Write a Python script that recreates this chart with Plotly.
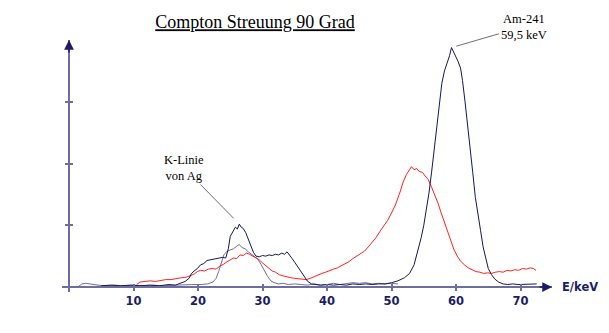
import numpy as np
import plotly.graph_objects as go

# ---- data (E in keV, counts in relative units) ----
E_dark = [5, 6.5, 8, 9.5, 11, 12.5, 14, 15.5, 16.5, 17.3, 18, 18.6, 19.0, 19.4, 19.9, 20.4, 20.9, 21.4, 22.0, 22.6,
          23.2, 23.8, 24.3, 24.7, 25.0, 25.4, 25.8, 26.1, 26.4, 26.7, 27.0, 27.4, 27.8, 28.2, 28.6, 29.0, 29.5, 30.0,
          30.5, 31.0, 31.5, 32.0, 32.5, 33.0, 33.4, 33.8, 34.2, 34.6, 35.0, 35.5, 36.0, 36.5, 37.0, 37.6, 38.3, 39,
          40, 41, 42, 43, 44, 45, 46, 47, 48, 49, 50, 51, 52, 52.8, 53.5, 54.1, 54.6, 55.0, 55.4, 55.8, 56.2, 56.6,
          57.0, 57.4, 57.8, 58.2, 58.7, 59.0, 59.3, 59.6, 59.9, 60.3, 60.7, 61.0, 61.4, 61.8, 62.2, 62.6, 63.0, 63.4,
          63.8, 64.2, 64.6, 65.0, 65.5, 66.0, 66.6, 67.3, 68, 68.8, 69.6, 70.4, 71.2, 72, 72.5]
v_dark = [0.02, 0.03, 0.02, 0.03, 0.02, 0.03, 0.02, 0.04, 0.03, 0.06, 0.09, 0.14, 0.22, 0.26, 0.30, 0.36, 0.38, 0.43,
          0.44, 0.45, 0.46, 0.48, 0.47, 0.62, 0.82, 0.90, 0.97, 0.94, 1.02, 0.97, 0.95, 0.88, 0.78, 0.66, 0.56, 0.50,
          0.49, 0.51, 0.50, 0.52, 0.51, 0.53, 0.52, 0.55, 0.53, 0.57, 0.52, 0.46, 0.40, 0.32, 0.23, 0.15, 0.09, 0.05,
          0.04, 0.03, 0.04, 0.03, 0.04, 0.03, 0.05, 0.04, 0.05, 0.04, 0.05, 0.05, 0.07, 0.10, 0.15, 0.22, 0.36, 0.58,
          0.80, 1.00, 1.25, 1.52, 1.85, 2.20, 2.55, 2.95, 3.30, 3.50, 3.64, 3.75, 3.88, 3.82, 3.74, 3.66, 3.55, 3.35,
          3.00, 2.65, 2.25, 1.85, 1.45, 1.15, 0.92, 0.65, 0.45, 0.30, 0.20, 0.13, 0.08, 0.05, 0.04, 0.05, 0.04, 0.04,
          0.05, 0.04, 0.05]

E_gray = [1.5, 2.0, 2.6, 3.2, 3.8, 4.5, 5.5, 7, 8.5, 10, 11.5, 13, 14.5, 16, 17.5, 19, 20.5, 21.5, 22.3, 22.8, 23.2,
          23.6, 24.0, 24.5, 25.0, 25.5, 26.0, 26.4, 26.8, 27.3, 27.8, 28.3, 28.8, 29.3, 29.8, 30.3, 30.8, 31.3, 31.8,
          32.5, 33.2, 34, 35, 36, 37, 38, 39, 40, 41, 42, 43, 44, 45, 46, 47, 48, 49, 50, 51]
v_gray = [0.01, 0.05, 0.06, 0.05, 0.03, 0.03, 0.02, 0.03, 0.02, 0.03, 0.02, 0.03, 0.02, 0.03, 0.03, 0.04, 0.04, 0.05,
          0.08, 0.14, 0.25, 0.40, 0.52, 0.58, 0.60, 0.62, 0.66, 0.69, 0.64, 0.62, 0.57, 0.53, 0.50, 0.45, 0.36, 0.26,
          0.17, 0.10, 0.07, 0.05, 0.06, 0.04, 0.05, 0.04, 0.03, 0.05, 0.03, 0.04, 0.06, 0.04, 0.05, 0.07, 0.06, 0.07,
          0.05, 0.06, 0.05, 0.06, 0.05]

E_red = [10.5, 11.0, 11.8, 12.6, 13.4, 14.2, 15.0, 15.8, 16.6, 17.4, 18.2, 18.8, 19.4, 19.9, 20.4, 21.0, 21.6, 22.2,
         22.8, 23.4, 24.0, 24.5, 25.0, 25.5, 26.0, 26.5, 27.0, 27.5, 28.0, 28.5, 29.0, 29.5, 30.0, 30.5, 31.0, 31.5,
         32.0, 32.6, 33.2, 33.8, 34.4, 35.0, 35.6, 36.2, 36.8, 37.4, 38.0, 38.6, 39.2, 39.8, 40.4, 41.0, 41.6, 42.2,
         42.8, 43.4, 44.0, 44.6, 45.2, 45.8, 46.4, 47.0, 47.6, 48.2, 48.8, 49.4, 50.0, 50.6, 51.2, 51.8, 52.3, 52.8,
         53.1, 53.5, 53.9, 54.3, 54.8, 55.2, 55.7, 56.2, 56.7, 57.2, 57.7, 58.2, 58.7, 59.2, 59.7, 60.2, 60.7, 61.3,
         61.9, 62.5, 63.1, 63.7, 64.3, 64.9, 65.5, 66.1, 66.7, 67.3, 67.9, 68.5, 69.1, 69.7, 70.3, 70.9, 71.5, 72.0,
         72.4]
v_red = [0.04, 0.08, 0.09, 0.10, 0.09, 0.11, 0.12, 0.12, 0.14, 0.15, 0.16, 0.19, 0.21, 0.25, 0.27, 0.26, 0.29, 0.30,
         0.29, 0.34, 0.37, 0.41, 0.44, 0.47, 0.46, 0.52, 0.51, 0.55, 0.53, 0.50, 0.48, 0.44, 0.39, 0.35, 0.31, 0.26,
         0.24, 0.20, 0.18, 0.16, 0.15, 0.14, 0.13, 0.13, 0.12, 0.14, 0.17, 0.20, 0.22, 0.24, 0.27, 0.29, 0.31, 0.34,
         0.37, 0.41, 0.46, 0.50, 0.54, 0.58, 0.65, 0.72, 0.80, 0.90, 0.99, 1.08, 1.20, 1.33, 1.50, 1.70, 1.82, 1.90,
         1.95, 1.90, 1.92, 1.87, 1.86, 1.80, 1.74, 1.62, 1.50, 1.36, 1.20, 1.05, 0.90, 0.74, 0.60, 0.50, 0.42, 0.36,
         0.31, 0.28, 0.25, 0.24, 0.22, 0.23, 0.22, 0.24, 0.25, 0.24, 0.27, 0.26, 0.28, 0.27, 0.30, 0.29, 0.31, 0.30,
         0.27]

x_ticks = [10, 20, 30, 40, 50, 60, 70]
y_ticks = [1, 2, 3]

# ---- layout geometry ----
W, H = 609, 333
L, R, T, B = 62, 57, 40, 41
x_range = [-1.085, 74.88]
y_range = [-0.081, 4.003]
ax_col = "#6e6e9e"
lab_col = "#1c1c66"

xpos = (0 - y_range[0]) / (y_range[1] - y_range[0])
ypos = (0 - x_range[0]) / (x_range[1] - x_range[0])

fig = go.Figure()
fig.add_trace(go.Scatter(x=E_gray, y=v_gray, mode="lines", line=dict(color="#6f6f9c", width=1), showlegend=False))
fig.add_trace(go.Scatter(x=E_red, y=v_red, mode="lines", line=dict(color="#ff2020", width=1), showlegend=False))
fig.add_trace(go.Scatter(x=E_dark, y=v_dark, mode="lines", line=dict(color="#16165c", width=1), showlegend=False))
# dummy trace to bind the overlay axes (crossing tick halves)
fig.add_trace(go.Scatter(x=[None], y=[None], xaxis="x2", yaxis="y2", showlegend=False, hoverinfo="skip"))

common = dict(showgrid=False, zeroline=False)
fig.update_layout(
    width=W, height=H, margin=dict(l=L, r=R, t=T, b=B),
    paper_bgcolor="white", plot_bgcolor="white",
    xaxis=dict(range=x_range, anchor="free", position=xpos, showline=True, linecolor=ax_col, linewidth=1.5,
               tickvals=x_ticks, ticks="outside", ticklen=3, tickcolor=ax_col, tickwidth=1.5,
               tickfont=dict(family="DejaVu Sans", size=11.5, color=lab_col, weight="bold"), **common),
    yaxis=dict(range=y_range, anchor="free", position=ypos, showline=True, linecolor=ax_col, linewidth=1.5,
               tickvals=y_ticks, ticks="outside", ticklen=3, tickcolor=ax_col, tickwidth=1.5,
               showticklabels=False, **common),
    xaxis2=dict(range=x_range, overlaying="x", anchor="free", position=xpos, showline=False,
                tickvals=x_ticks, ticks="inside", ticklen=3, tickcolor=ax_col, tickwidth=1.5,
                showticklabels=False, **common),
    yaxis2=dict(range=y_range, overlaying="y", anchor="free", position=ypos, showline=False,
                tickvals=y_ticks, ticks="inside", ticklen=3, tickcolor=ax_col, tickwidth=1.5,
                showticklabels=False, **common),
    title=dict(text="<u>Compton Streuung 90 Grad</u>", x=255 / W, xanchor="center", xref="container",
               y=1 - 22 / H, yanchor="middle", yref="container",
               font=dict(family="Liberation Serif", size=18, color="black")),
    showlegend=False,
)

# axis arrowheads
fig.add_annotation(x=x_range[1], y=0, ax=-14, ay=0, text="", showarrow=True, arrowhead=2, arrowsize=1.3,
                   arrowwidth=1.5, arrowcolor=lab_col, xref="x", yref="y")
fig.add_annotation(x=0, y=y_range[1], ax=0, ay=14, text="", showarrow=True, arrowhead=2, arrowsize=1.3,
                   arrowwidth=1.5, arrowcolor=lab_col, xref="x", yref="y")
fig.add_annotation(x=1.016, xref="paper", y=0, yref="y", text="<b>E/keV</b>", showarrow=False,
                   xanchor="left", yanchor="middle",
                   font=dict(family="DejaVu Sans", size=11.5, color=lab_col))

# peak labels
Ed = np.array(E_dark)
vd = np.array(v_dark)
kmask = (Ed > 20) & (Ed < 30)
k_i = np.argmax(np.where(kmask, vd, -1))
am_i = int(np.argmax(vd))
fig.add_annotation(x=Ed[k_i], y=vd[k_i], ax=-55, ay=-56, text="K-Linie<br>von Ag", showarrow=True,
                   arrowhead=0, arrowwidth=1, arrowcolor="#707070", standoff=8,
                   font=dict(family="Liberation Serif", size=12.5, color="black"))
fig.add_annotation(x=Ed[am_i], y=vd[am_i], ax=72, ay=-21, text="Am-241<br>59,5 keV", showarrow=True,
                   arrowhead=0, arrowwidth=1, arrowcolor="#707070", standoff=5,
                   font=dict(family="Liberation Serif", size=12.5, color="black"))

fig.write_html("out.html")
